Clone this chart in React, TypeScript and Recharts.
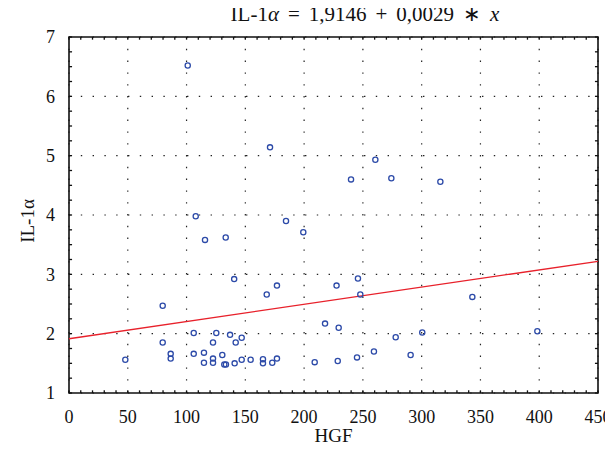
import { ScatterChart, Scatter, XAxis, YAxis, CartesianGrid, ReferenceLine, ReferenceArea } from 'recharts'

// HGF vs IL-1alpha
const hgf = [
  101.0, 171.0, 107.8, 115.7, 133.3, 184.6, 199.3, 140.5, 239.9, 260.6,
  274.2, 315.9, 227.6, 245.8, 247.8, 343.1, 217.8, 229.4, 277.9, 300.5,
  398.4, 209.0, 228.6, 245.0, 259.4, 290.6, 79.7, 79.7, 106.1, 125.3,
  137.0, 146.9, 141.8, 122.5, 86.5, 86.5, 47.9, 106.1, 114.8, 114.8,
  122.5, 122.5, 130.4, 132.1, 133.5, 140.9, 146.9, 154.5, 165.0, 165.0,
  172.9, 176.9, 168.2, 176.9,
]
const il1a = [
  6.52, 5.14, 3.98, 3.58, 3.62, 3.9, 3.71, 2.92, 4.6, 4.93,
  4.62, 4.56, 2.81, 2.93, 2.66, 2.62, 2.17, 2.1, 1.94, 2.02,
  2.04, 1.52, 1.54, 1.6, 1.7, 1.64, 2.47, 1.85, 2.01, 2.01,
  1.98, 1.93, 1.85, 1.85, 1.66, 1.58, 1.56, 1.66, 1.68, 1.51,
  1.58, 1.51, 1.64, 1.48, 1.48, 1.5, 1.56, 1.56, 1.57, 1.5,
  1.51, 1.58, 2.66, 2.81,
]

const intercept = 1.9146
const slope = 0.0029

const xTicks = [0, 50, 100, 150, 200, 250, 300, 350, 400, 450]
const yTicks = [1, 2, 3, 4, 5, 6, 7]
const xMinor = Array.from({ length: 46 }, (_, i) => i * 10)
const yMinor = Array.from({ length: 25 }, (_, i) => 1 + i * 0.25)

const points = hgf.map((x, i) => ({ x, y: il1a[i] }))

const font = '"Liberation Serif", "Times New Roman", serif'

const Ring = (props: any) => (
  <circle cx={props.cx} cy={props.cy} r={2.6} fill="none" stroke="#2c4aa8" strokeWidth={1.3} />
)

const op = { margin: '0 9px' }

export default function App() {
  return (
    <div style={{ position: 'relative', width: 605, height: 450, fontFamily: font }}>
      <ScatterChart width={605} height={450} margin={{ top: 29, right: 15, bottom: 15, left: 16 }}>
        <CartesianGrid stroke="#222" strokeDasharray="1.4 10.4" strokeWidth={1.2} />
        <XAxis
          type="number"
          dataKey="x"
          domain={[0, 450]}
          ticks={xTicks}
          allowDataOverflow
          height={50}
          tickSize={0}
          tickMargin={17}
          axisLine={false}
          tick={{ fill: '#111', fontSize: 18, fontFamily: font }}
          label={{ value: 'HGF', position: 'insideBottom', offset: 1, fill: '#111', fontSize: 19, fontFamily: font }}
        />
        <YAxis
          type="number"
          dataKey="y"
          domain={[1, 7]}
          ticks={yTicks}
          allowDataOverflow
          width={45}
          tickSize={0}
          tickMargin={14}
          axisLine={false}
          tick={{ fill: '#111', fontSize: 18, fontFamily: font }}
          label={{
            value: 'IL-1α',
            angle: -90,
            position: 'insideLeft',
            offset: 3,
            dy: 6,
            fill: '#111',
            fontSize: 19,
            fontFamily: font,
            style: { textAnchor: 'middle' },
          }}
        />
        {xMinor.map((v) => (
          <ReferenceLine key={'xb' + v} segment={[{ x: v, y: 1 }, { x: v, y: 1.045 }]} stroke="#111" strokeWidth={1.3} />
        ))}
        {xMinor.map((v) => (
          <ReferenceLine key={'xt' + v} segment={[{ x: v, y: 7 }, { x: v, y: 6.955 }]} stroke="#111" strokeWidth={1.3} />
        ))}
        {yMinor.map((v) => (
          <ReferenceLine key={'yl' + v} segment={[{ x: 0, y: v }, { x: 2.6, y: v }]} stroke="#111" strokeWidth={1.3} />
        ))}
        {yMinor.map((v) => (
          <ReferenceLine key={'yr' + v} segment={[{ x: 450, y: v }, { x: 447.4, y: v }]} stroke="#111" strokeWidth={1.3} />
        ))}
        <ReferenceArea x1={0} x2={450} y1={1} y2={7} fill="none" stroke="#111" strokeWidth={1.6} ifOverflow="visible" />
        <ReferenceLine
          segment={[
            { x: 0, y: intercept },
            { x: 450, y: intercept + slope * 450 },
          ]}
          stroke="#e8212b"
          strokeWidth={1.3}
        />
        <Scatter data={points} shape={Ring} isAnimationActive={false} />
      </ScatterChart>
      <div
        style={{
          position: 'absolute',
          left: 0,
          width: 714,
          top: -6,
          textAlign: 'center',
          fontSize: 21,
          lineHeight: '25px',
          color: '#111',
          whiteSpace: 'nowrap',
          zIndex: 1,
        }}
      >
        IL-1<i>α</i>
        <span style={op}>=</span>1,9146<span style={op}>+</span>0,0029<span style={op}>∗</span>
        <i>x</i>
      </div>
    </div>
  )
}
